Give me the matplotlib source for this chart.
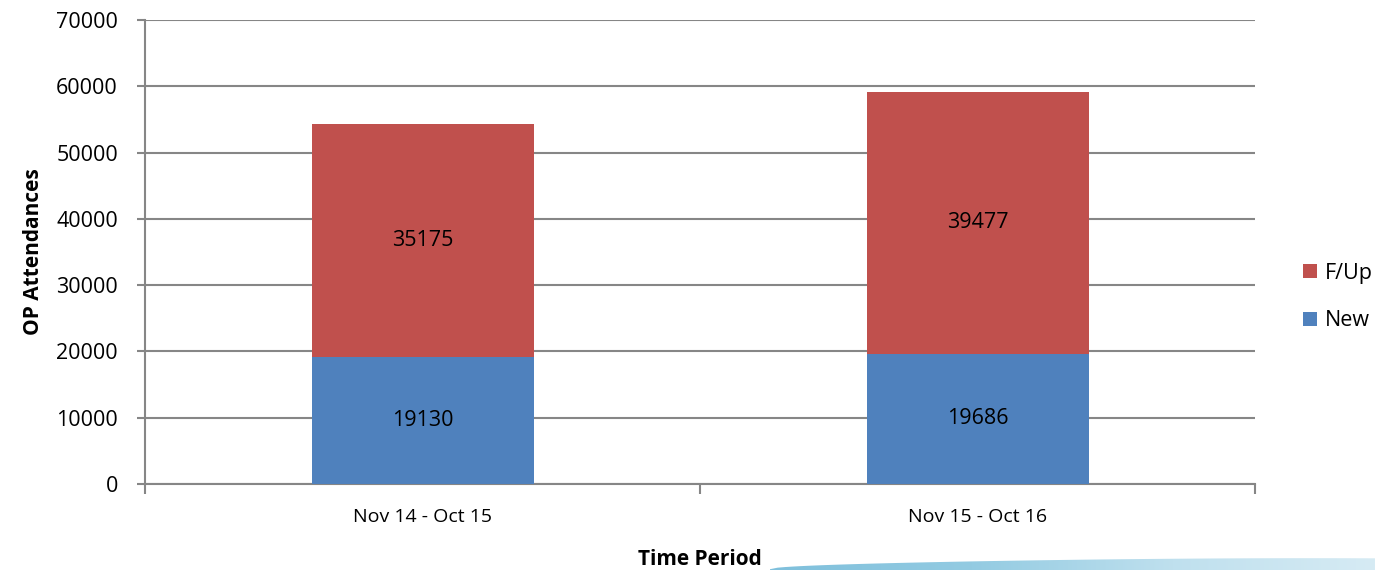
import numpy as np
import matplotlib
matplotlib.use("Agg")
import matplotlib.pyplot as plt
from matplotlib.patches import Polygon
from matplotlib.colors import LinearSegmentedColormap

plt.rcParams['font.family'] = ['Open Sans', 'DejaVu Sans']

periods = ["Nov 14 - Oct 15", "Nov 15 - Oct 16"]
new_vals = [19130, 19686]
fup_vals = [35175, 39477]

blue = "#4F81BD"
red = "#C0504D"
grid_c = "#868686"

fig = plt.figure(figsize=(13.75, 5.7), dpi=100)
ax = fig.add_axes([145/1375, 1-484/570, 1110/1375, 464/570])

x = np.arange(len(periods))
ax.bar(x, new_vals, width=0.4, color=blue, label="New", zorder=3)
ax.bar(x, fup_vals, width=0.4, bottom=new_vals, color=red, label="F/Up", zorder=3)

for i in range(len(periods)):
    ax.text(x[i], new_vals[i] / 2, str(new_vals[i]), ha="center", va="center",
            fontsize=15.5, zorder=4)
    ax.text(x[i], new_vals[i] + fup_vals[i] / 2, str(fup_vals[i]), ha="center",
            va="center", fontsize=15.5, zorder=4)

ax.set_xlim(-0.5, len(periods) - 0.5)
ax.set_ylim(0, 70000)
ax.set_yticks(range(0, 70001, 10000))
ax.set_xticks(x)
ax.set_xticklabels(periods, fontsize=14)
ax.set_xticks([-0.5, 0.5, 1.5], minor=True)
ax.tick_params(axis="x", which="major", length=0, pad=17)
ax.tick_params(axis="x", which="minor", length=7, width=1.5, color=grid_c, direction="out")
ax.tick_params(axis="y", length=6, width=1.5, color=grid_c, labelsize=15.5, pad=13.5)
ax.yaxis.grid(True, color=grid_c, linewidth=1.5, zorder=0)

for s in ["top", "right"]:
    ax.spines[s].set_visible(False)
for s in ["left", "bottom"]:
    ax.spines[s].set_color(grid_c)
    ax.spines[s].set_linewidth(1.5)

ax.set_ylabel("OP Attendances", fontsize=15, fontweight="bold", labelpad=9)
ax.set_xlabel("Time Period", fontsize=15, fontweight="bold", labelpad=17)

handles, labels = ax.get_legend_handles_labels()
fig.legend(handles[::-1], labels[::-1], loc="center left",
           bbox_to_anchor=(1284/1375, 1-297/570), frameon=False, fontsize=15.5,
           handlelength=0.65, handleheight=0.65, handletextpad=0.35, labelspacing=1.25)

# decorative swoosh at bottom right
sw = fig.add_axes([770/1375, 0, 605/1375, 16/570])
sw.set_xlim(0, 1)
sw.set_ylim(0, 1)
sw.axis("off")
grad = np.linspace(0, 1, 256).reshape(1, -1)
cmap = LinearSegmentedColormap.from_list("sw", ["#7fc0dc", "#93cbe2", "#bfe0ee", "#d6ebf4"])
img = sw.imshow(grad, extent=[0, 1, 0, 1], aspect="auto", cmap=cmap)
xs = np.linspace(0, 1, 80)
top = 0.05 + 0.85 * np.sqrt(xs) * (1 - 0.2 * xs ** 3)
pts = np.column_stack([np.r_[xs, 1, 0], np.r_[top, 0, 0]])
clip = Polygon(pts, closed=True, transform=sw.transData, facecolor="none", edgecolor="none")
sw.add_patch(clip)
img.set_clip_path(clip)

fig.savefig("out.png", dpi=100)
